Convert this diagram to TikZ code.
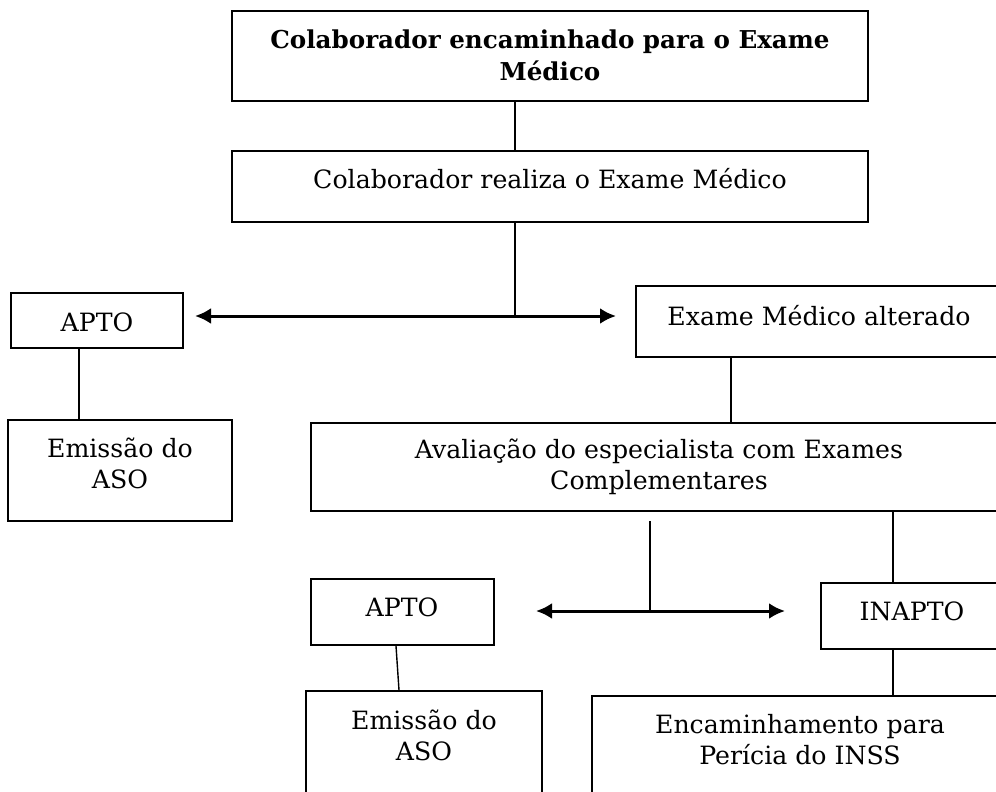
\documentclass[tikz,border=0pt]{standalone}
\usepackage{fontspec}
\setmainfont{DejaVu Serif}
\usetikzlibrary{arrows.meta,fit}

\begin{document}
\begin{tikzpicture}[x=0.5pt,y=-0.5pt,
    box/.style={draw,line width=0.85pt,inner sep=0pt},
    txt/.style={align=center,font=\fontsize{12.6}{15.5}\selectfont},
    conn/.style={line width=0.7pt},
    flecha/.style={line width=1.5pt,{Latex[length=8pt,width=8pt]}-{Latex[length=8pt,width=8pt]}}]
      \useasboundingbox (0,0) rectangle (996,792);
      \clip (0,0) rectangle (996,792);
      \node [box, fit={(232,11)(868,101)}] (inicio) {};
      \node [txt, font=\fontsize{12.3}{16}\selectfont\bfseries] (tinicio) at (550,55) {Colaborador encaminhado para o Exame\\Médico};
      \node [box, fit={(232,151)(868,222)}] (realiza) {};
      \node [txt] (trealiza) at (550,179) {Colaborador realiza o Exame Médico};
      \node [box, fit={(11,293)(183,348)}] (apto) {};
      \node [txt] (tapto) at (97,322) {APTO};
      \node [box, fit={(636,286)(1002,357)}] (alterado) {};
      \node [txt] (talterado) at (819,316) {Exame Médico alterado};
      \node [box, fit={(8,420)(232,521)}] (aso) {};
      \node [txt] (taso) at (120,463) {Emissão do\\ASO};
      \node [box, fit={(311,423)(1007,511)}] (especialista) {};
      \node [txt] (tespecialista) at (659,467) {Avaliação do especialista com Exames\\Complementares};
      \node [box, fit={(311,579)(494,645)}] (aptob) {};
      \node [txt] (taptob) at (402,607) {APTO};
      \node [box, fit={(821,583)(1003,649)}] (inapto) {};
      \node [txt] (tinapto) at (912,611) {INAPTO};
      \node [box, fit={(306,691)(542,800)}] (asob) {};
      \node [txt] (tasob) at (424,735) {Emissão do\\ASO};
      \node [box, fit={(592,696)(1008,805)}] (inss) {};
      \node [txt] (tinss) at (800,740) {Encaminhamento para\\Perícia do INSS};
      \coordinate (j1) at (515,316);
      \coordinate (e1) at (195,316);
      \coordinate (d1) at (616,316);
      \coordinate (j2a) at (650,521);
      \coordinate (j2) at (650,611);
      \coordinate (e2) at (536,611);
      \coordinate (d2) at (785,611);
      \draw [conn] (inicio.south -| j1) -- (realiza.north -| j1);
      \draw [conn] (realiza.south -| j1) -- (j1);
      \draw [flecha] (e1) -- (d1);
      \draw [conn] (apto.south -| 79,0) -- (aso.north -| 79,0);
      \draw [conn] (alterado.south -| 731,0) -- (especialista.north -| 731,0);
      \draw [conn] (j2a) -- (j2);
      \draw [flecha] (e2) -- (d2);
      \draw [conn] (especialista.south -| 893,0) -- (inapto.north -| 893,0);
      \draw [conn] (aptob.south -| 396,0) -- (asob.north -| 399,0);
      \draw [conn] (inapto.south -| 893,0) -- (inss.north -| 893,0);
\end{tikzpicture}
\end{document}
